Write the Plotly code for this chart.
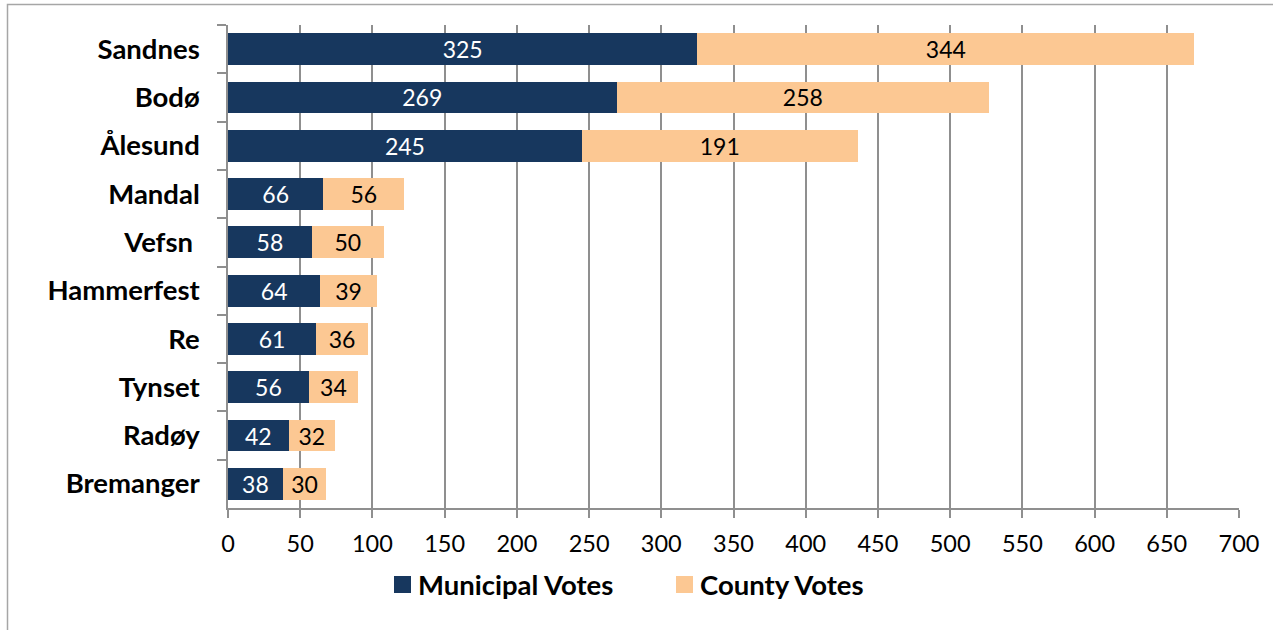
import plotly.graph_objects as go

# Vote counts per municipality
municipalities = ["Sandnes", "Bodø", "Ålesund", "Mandal", "Vefsn ", "Hammerfest",
                  "Re", "Tynset", "Radøy", "Bremanger"]
municipal_votes = [325, 269, 245, 66, 58, 64, 61, 56, 42, 38]
county_votes = [344, 258, 191, 56, 50, 39, 36, 34, 32, 30]
x_ticks = list(range(0, 701, 50))

NAVY = "#17375E"
PEACH = "#FCC893"
GRID = "#8f8f8f"
FONT = "Lato"

series = [
    ("Municipal Votes", municipal_votes, NAVY, "white"),
    ("County Votes", county_votes, PEACH, "black"),
]

fig = go.Figure()
for name, vals, col, txtcol in series:
    fig.add_trace(go.Bar(
        y=municipalities, x=vals, orientation="h", name=name,
        marker=dict(color=col, line=dict(width=0)),
        text=vals, textposition="inside", insidetextanchor="middle", textangle=0,
        textfont=dict(family=FONT, size=23, color=txtcol), constraintext="none",
        hoverinfo="x+y",
    ))

W, H = 1273, 630
ml, mr, mt, mb = 228, 34, 25, 122
pw, ph = W - ml - mr, H - mt - mb


def px_x(p):
    return (p - ml) / pw


def px_y(p):
    return (H - mb - p) / ph


# outer frame of the chart area
fig.add_shape(type="rect", xref="paper", yref="paper",
              x0=px_x(7.5), x1=px_x(W + 10), y0=px_y(H + 10), y1=px_y(4.5),
              line=dict(color="#a6a6a6", width=1.5), fillcolor="rgba(0,0,0,0)",
              layer="below")

# legend below the axis: colour swatch + bold series name
legend_pos = [394, 676]
for (name, _, col, _), lx in zip(series, legend_pos):
    fig.add_shape(type="rect", xref="paper", yref="paper",
                  x0=px_x(lx), x1=px_x(lx + 17), y0=px_y(593), y1=px_y(576),
                  line=dict(width=0), fillcolor=col)
    fig.add_annotation(xref="paper", yref="paper", x=px_x(lx + 22), y=px_y(584),
                       xanchor="left", yanchor="middle", showarrow=False, text=name,
                       font=dict(family=FONT, size=27.5, color="black", weight="bold"))

fig.update_layout(
    width=W, height=H,
    margin=dict(l=ml, r=mr, t=mt, b=mb),
    barmode="stack", bargap=0.34,
    plot_bgcolor="white", paper_bgcolor="white",
    font=dict(family=FONT, color="black"),
    showlegend=False,
    xaxis=dict(range=[0, 700], tickvals=x_ticks, ticktext=[str(v) for v in x_ticks],
               showgrid=True, gridcolor=GRID, gridwidth=1.5,
               showline=True, linecolor=GRID, linewidth=1.5,
               ticks="outside", ticklen=8, tickcolor=GRID, tickwidth=1.5,
               tickfont=dict(family=FONT, size=23.5, color="black"),
               ticklabelstandoff=6, zeroline=False, fixedrange=True),
    yaxis=dict(categoryorder="array", categoryarray=municipalities, autorange="reversed",
               showline=True, linecolor=GRID, linewidth=1.5,
               ticks="outside", ticklen=9, tickcolor=GRID, tickwidth=1.5,
               tickson="boundaries", showgrid=False,
               tickfont=dict(family=FONT, size=27.5, color="black", weight="bold"),
               ticklabelstandoff=21, fixedrange=True),
)

fig.write_html("out.html")
